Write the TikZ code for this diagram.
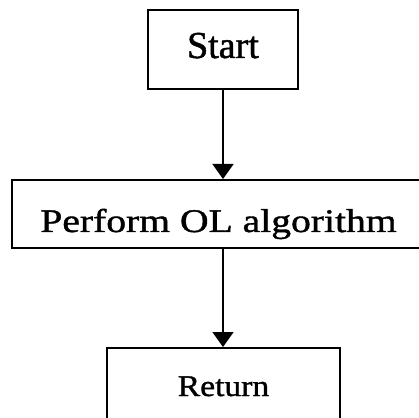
\documentclass[tikz,border=0pt]{standalone}
\usepackage{fontspec}
\setmainfont{Liberation Serif}
\newfontfamily\plainserif{Liberation Serif}[FakeBold=1.2]
\newfontfamily\wideserif{Liberation Serif}[FakeStretch=1.2,FakeBold=1.2]
\newfontfamily\halfwideserif{Liberation Serif}[FakeStretch=1.12,FakeBold=1.2]
\usepackage{tikz}
\usetikzlibrary{arrows.meta,positioning}
\tikzstyle{stepbox} = [rectangle, draw=black, line width=2pt, fill=white, text=black, text centered, inner sep=0pt, text depth=0pt]
\tikzstyle{tedge}  = [draw, line width=1.6pt, >={Triangle[length=15pt,width=21pt]}, ->]

\begin{document}
\begin{tikzpicture}[auto]

\clip (0,0) rectangle (419pt,417pt);

% boxes =============================

% start
\node[stepbox, minimum width=150pt, minimum height=79pt, text height=17pt,
      font=\plainserif\fontsize{38}{44}\selectfont] (start) at (223pt,367.5pt) {Start};

% algorithm
\node[stepbox, below=89pt of start, xshift=-4.5pt, minimum width=413pt, minimum height=68pt,
      text height=36pt, font=\wideserif\fontsize{33}{38}\selectfont] (perform) {Perform OL algorithm};

% return
\node[stepbox, below=98pt of perform, xshift=5pt, minimum width=233pt, minimum height=79pt,
      text height=17pt, font=\halfwideserif\fontsize{30}{36}\selectfont] (ret) {Return};



% edges
\path[tedge] (start.south) -- (start.south |- perform.north);

\path[tedge] (start.south |- perform.south) -- (start.south |- ret.north);

\end{tikzpicture}
\end{document}
